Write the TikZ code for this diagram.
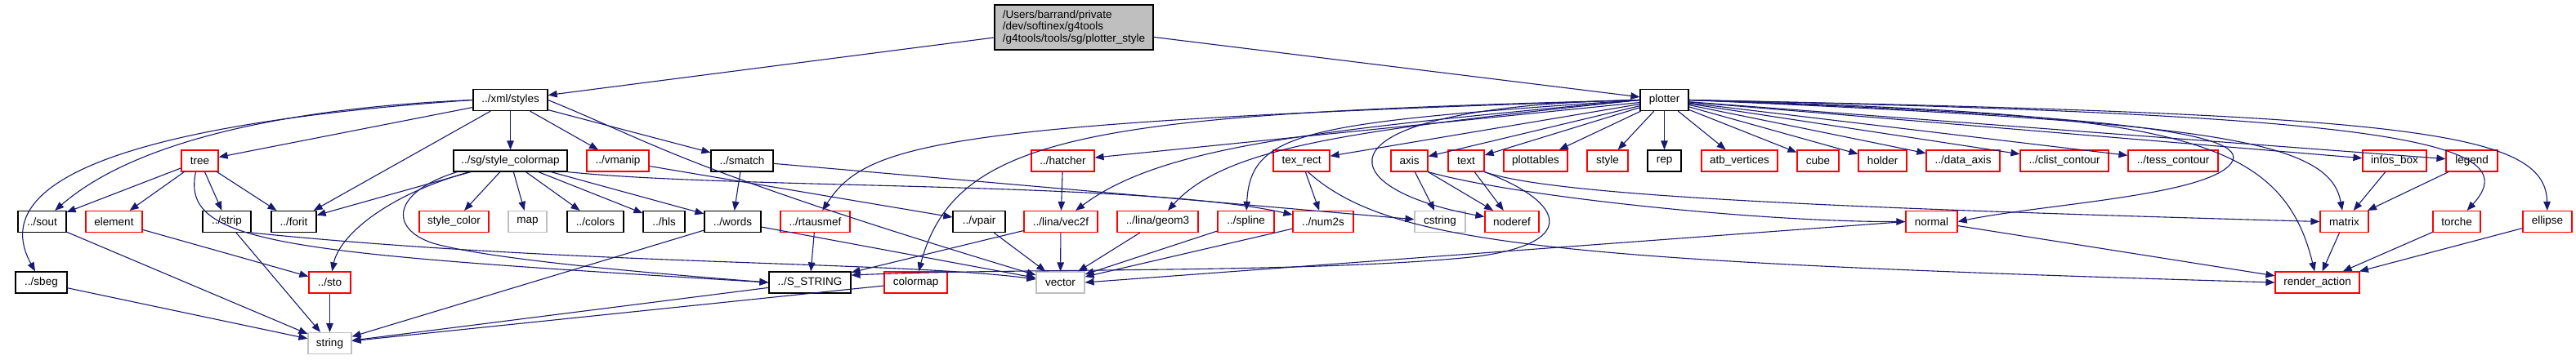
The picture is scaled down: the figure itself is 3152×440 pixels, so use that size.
\documentclass[tikz,border=0pt]{standalone}
\usepackage{fontspec}
\setmainfont{Liberation Sans}
\usetikzlibrary{arrows.meta}
\definecolor{edgeblue}{RGB}{25,25,112}
\definecolor{boxgray}{RGB}{191,191,191}

\tikzset{
  filebox/.style={draw, line width=1.2pt, fill=white, minimum height=26pt, inner sep=2pt,
    font=\fontsize{13.5}{14.7}\selectfont},
  localbox/.style={filebox, draw=black},
  redbox/.style={filebox, draw=red},
  sysbox/.style={filebox, draw=boxgray},
  dep/.style={edgeblue, line width=1.1pt, -{Triangle[length=11pt,width=8.5pt]}},
}

\begin{document}
\begin{tikzpicture}[x=1pt, y=-1pt]
    \useasboundingbox (0,0) rectangle (3152,440);

    % The file itself
    \node[localbox, fill=boxgray, align=left, minimum width=194, minimum height=55, inner xsep=9pt]
        (main) at (1314,33.5) {/Users/barrand/private\\/dev/softinex/g4tools\\/g4tools/tools/sg/plotter\_style};

    % Direct includes
    \node[localbox, minimum width=91] (xmlstyles) at (624.5,122.5) {../xml/styles};
    \node[localbox, minimum width=59] (plotter) at (2036.5,122.5) {plotter};

    % Second level
    \node[redbox, minimum width=45] (tree) at (244.5,197) {tree};
    \node[localbox, minimum width=139] (stylecmap) at (624.5,197) {../sg/style\_colormap};
    \node[redbox, minimum width=76] (vmanip) at (756,197) {../vmanip};
    \node[localbox, minimum width=76] (smatch) at (908,197) {../smatch};
    \node[redbox, minimum width=77] (hatcher) at (1300.5,197) {../hatcher};
    \node[redbox, minimum width=69] (texrect) at (1592.5,197) {tex\_rect};
    \node[redbox, minimum width=45] (sgaxis) at (1724.5,197) {axis};
    \node[redbox, minimum width=44] (sgtext) at (1794,197) {text};
    \node[redbox, minimum width=78] (plottables) at (1879,197) {plottables};
    \node[redbox, minimum width=50] (sgstyle) at (1967,197) {style};
    \node[localbox, minimum width=41] (rep) at (2036.5,197) {rep};
    \node[redbox, minimum width=93] (atbvertices) at (2128.5,197) {atb\_vertices};
    \node[redbox, minimum width=51] (cube) at (2224.5,197) {cube};
    \node[redbox, minimum width=59] (holder) at (2303.5,197) {holder};
    \node[redbox, minimum width=90] (dataaxis) at (2402,197) {../data\_axis};
    \node[redbox, minimum width=108] (clistcontour) at (2526,197) {../clist\_contour};
    \node[redbox, minimum width=110] (tesscontour) at (2659,197) {../tess\_contour};
    \node[redbox, minimum width=78] (infosbox) at (2930,197) {infos\_box};
    \node[redbox, minimum width=63] (legend) at (3024.5,197) {legend};

    % Third level
    \node[localbox, minimum width=59] (sout) at (51.5,271.5) {../sout};
    \node[redbox, minimum width=69] (element) at (139.5,271.5) {element};
    \node[localbox, minimum width=59] (strip) at (277.5,271.5) {../strip};
    \node[localbox, minimum width=55] (forit) at (359.5,271.5) {../forit};
    \node[redbox, minimum width=85] (stylecolor) at (555.5,271.5) {style\_color};
    \node[sysbox, minimum width=47] (map) at (645.5,271.5) {map};
    \node[localbox, minimum width=69] (colors) at (728.5,271.5) {../colors};
    \node[localbox, minimum width=51] (hls) at (812.5,271.5) {../hls};
    \node[localbox, minimum width=69] (words) at (896.5,271.5) {../words};
    \node[redbox, minimum width=85] (rtausmef) at (997.5,271.5) {../rtausmef};
    \node[localbox, minimum width=64] (vpair) at (1198,271.5) {../vpair};
    \node[redbox, minimum width=90] (vec2f) at (1298,271.5) {../lina/vec2f};
    \node[redbox, minimum width=99] (geom3) at (1416.5,271.5) {../lina/geom3};
    \node[redbox, minimum width=69] (spline) at (1524.5,271.5) {../spline};
    \node[redbox, minimum width=74] (num2s) at (1619,271.5) {../num2s};
    \node[sysbox, minimum width=62] (cstring) at (1762,271.5) {cstring};
    \node[redbox, minimum width=66] (noderef) at (1850,271.5) {noderef};
    \node[redbox, minimum width=63] (sgnormal) at (2363.5,271.5) {normal};
    \node[redbox, minimum width=59] (sgmatrix) at (2868.5,271.5) {matrix};
    \node[redbox, minimum width=58] (torche) at (3006,271.5) {torche};
    \node[redbox, minimum width=60] (sgellipse) at (3117,271.5) {ellipse};

    % Fourth level
    \node[localbox, minimum width=63] (sbeg) at (50.5,346) {../sbeg};
    \node[redbox, minimum width=51] (sto) at (403.5,346) {../sto};
    \node[localbox, minimum width=100] (SSTRING) at (991,346) {../S\_STRING};
    \node[redbox, minimum width=77] (colormap) at (1120.5,346) {colormap};
    \node[sysbox, minimum width=59] (vector) at (1297.5,346) {vector};
    \node[redbox, minimum width=103] (renderaction) at (2835.5,346) {render\_action};

    \node[sysbox, minimum width=53] (string) at (403.5,420.5) {string};

    % Edges from the file
    \draw[dep] (main) -- (xmlstyles);
    \draw[dep] (main) -- (plotter);

    % ../xml/styles
    \draw[dep] (xmlstyles) -- (tree);
    \draw[dep] (xmlstyles) -- (stylecmap);
    \draw[dep] (xmlstyles) -- (vmanip);
    \draw[dep] (xmlstyles) -- (smatch);
    \draw[dep] (xmlstyles) -- (forit);
    \draw[dep] (xmlstyles.west) .. controls (400,130) and (180,160) .. (sout);
    \draw[dep] (xmlstyles.west) .. controls (250,145) and (-30,200) .. (sbeg);
    \draw[dep] (xmlstyles.east) .. controls (800,175) and (830,205) .. (vector);

    % tree
    \draw[dep] (tree) -- (sout);
    \draw[dep] (tree) -- (element);
    \draw[dep] (tree) -- (strip);
    \draw[dep] (tree) -- (forit);
    \draw[dep] (tree.250) .. controls (220,300) and (350,310) .. (SSTRING.west);

    % ../sg/style_colormap
    \draw[dep] (stylecmap) -- (stylecolor);
    \draw[dep] (stylecmap) -- (map);
    \draw[dep] (stylecmap) -- (colors);
    \draw[dep] (stylecmap) -- (hls);
    \draw[dep] (stylecmap) -- (words);
    \draw[dep] (stylecmap) -- (forit);
    \draw[dep] ([xshift=20pt]stylecmap.south west) .. controls (470,240) and (415,290) .. (sto);
    \draw[dep] ([xshift=5pt]stylecmap.south west) .. controls (480,235) and (475,280) .. (530,298)
        .. controls (600,318) and (800,335) .. (SSTRING.west);
    \draw[dep] (stylecmap.south east) .. controls (900,232) and (1400,222) .. (num2s);

    % other local headers
    \draw[dep] (vmanip) -- (vpair);
    \draw[dep] (smatch) -- (words);
    \draw[dep] (smatch) -- (cstring);
    \draw[dep] (element) -- (sto);
    \draw[dep] (strip) -- (string);
    \draw[dep] (strip.south east) .. controls (700,325) and (1100,320) .. (vector);
    \draw[dep] (sout) -- (string);
    \draw[dep] (sbeg) -- (string);
    \draw[dep] (sto) -- (string);
    \draw[dep] (words) -- (string);
    \draw[dep] (words) -- (vector);
    \draw[dep] (SSTRING) -- (string);
    \draw[dep] (colormap) -- (string);
    \draw[dep] (rtausmef) -- (SSTRING);
    \draw[dep] (vpair) -- (vector);
    \draw[dep] (hatcher) -- (vec2f);
    \draw[dep] (vec2f) -- (vector);
    \draw[dep] (vec2f) -- (SSTRING);
    \draw[dep] (geom3) -- (vector);
    \draw[dep] (spline) -- (vector);
    \draw[dep] (num2s) -- (vector);

    % plotter
    \draw[dep] (plotter.west) .. controls (1150,150) and (1060,175) .. (rtausmef);
    \draw[dep] (plotter.west) .. controls (1350,140) and (1170,160) .. (colormap);
    \draw[dep] (plotter) -- (hatcher);
    \draw[dep] (plotter.west) .. controls (1600,160) and (1420,180) .. (vec2f);
    \draw[dep] (plotter.west) .. controls (1650,160) and (1500,180) .. (geom3);
    \draw[dep] (plotter.west) .. controls (1600,150) and (1530,160) .. (spline);
    \draw[dep] (plotter.west) .. controls (1600,130) and (1620,230) .. (noderef);
    \draw[dep] (plotter) -- (texrect);
    \draw[dep] (plotter) -- (sgaxis);
    \draw[dep] (plotter) -- (sgtext);
    \draw[dep] (plotter) -- (plottables);
    \draw[dep] (plotter) -- (sgstyle);
    \draw[dep] (plotter) -- (rep);
    \draw[dep] (plotter) -- (atbvertices);
    \draw[dep] (plotter) -- (cube);
    \draw[dep] (plotter) -- (holder);
    \draw[dep] (plotter) -- (dataaxis);
    \draw[dep] (plotter) -- (clistcontour);
    \draw[dep] (plotter) -- (tesscontour);
    \draw[dep] (plotter) -- (infosbox);
    \draw[dep] (plotter) -- (legend);
    \draw[dep] (plotter.east) .. controls (2550,140) and (2760,160) .. (2730,200)
        .. controls (2700,240) and (2500,250) .. (sgnormal.east);
    \draw[dep] (plotter.east) .. controls (2700,150) and (2850,170) .. (sgmatrix);
    \draw[dep] (plotter.east) .. controls (2650,140) and (2790,160) .. (renderaction);
    \draw[dep] (plotter.east) .. controls (2900,140) and (3100,170) .. (torche);
    \draw[dep] (plotter.east) .. controls (2950,140) and (3115,160) .. (sgellipse);

    % sg nodes
    \draw[dep] (texrect) -- (num2s);
    \draw[dep] (texrect.-60) .. controls (1700,300) and (1900,320) .. (renderaction.west);
    \draw[dep] (sgaxis) -- (cstring);
    \draw[dep] (sgaxis) -- (noderef);
    \draw[dep] (sgaxis.south east) .. controls (1850,240) and (2150,272) .. (sgnormal.west);
    \draw[dep] (sgtext) -- (noderef);
    \draw[dep] (sgtext.south east) .. controls (1900,240) and (2250,255) .. (sgmatrix.west);
    \draw[dep] (sgtext.south east) .. controls (1920,250) and (1930,300) .. (1800,315)
        .. controls (1600,335) and (1250,328) .. (SSTRING.10);
    \draw[dep] (sgnormal.west) -- (vector.east);
    \draw[dep] (sgnormal) -- (renderaction);
    \draw[dep] (infosbox) -- (sgmatrix);
    \draw[dep] (legend) -- (sgmatrix);
    \draw[dep] (sgmatrix) -- (renderaction);
    \draw[dep] (torche) -- (renderaction);
    \draw[dep] (sgellipse) -- (renderaction);
\end{tikzpicture}
\end{document}
